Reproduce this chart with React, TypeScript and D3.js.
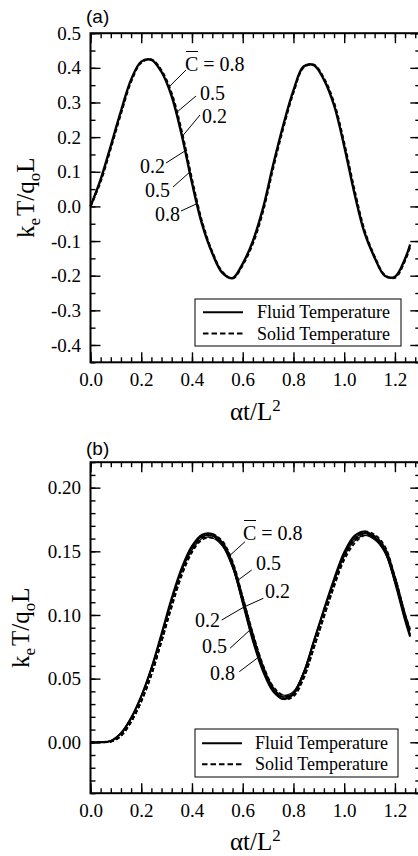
import React, { useEffect, useRef } from 'react';
import * as d3 from 'd3';

// time grid shared by every curve (alpha t / L^2)
const tGrid = [0, 0.04, 0.08, 0.12, 0.16, 0.2, 0.24, 0.28, 0.32, 0.36, 0.4, 0.44, 0.48, 0.52, 0.56, 0.6, 0.64,
  0.68, 0.72, 0.76, 0.8, 0.84, 0.88, 0.92, 0.96, 1.0, 1.04, 1.08, 1.12, 1.16, 1.2, 1.24, 1.26];

// panel (a): the three C curves sit on top of each other
const aFluid = [0, 0.078, 0.175, 0.275, 0.366, 0.418, 0.423, 0.388, 0.318, 0.205, 0.068, -0.052, -0.135, -0.192,
  -0.207, -0.165, -0.100, -0.005, 0.120, 0.235, 0.335, 0.404, 0.408, 0.366, 0.292, 0.174, 0.039, -0.076, -0.148,
  -0.200, -0.203, -0.151, -0.110];
const aSolid = [0, 0.072, 0.168, 0.268, 0.360, 0.415, 0.424, 0.392, 0.326, 0.215, 0.078, -0.045, -0.131, -0.189,
  -0.208, -0.169, -0.107, -0.014, 0.111, 0.227, 0.329, 0.401, 0.409, 0.370, 0.299, 0.183, 0.049, -0.069, -0.145,
  -0.198, -0.206, -0.156, -0.116];

// panel (b): one curve per C value
const bFluid08 = [0, 0, 0.001, 0.007, 0.019, 0.036, 0.058, 0.085, 0.113, 0.137, 0.154, 0.163, 0.1635, 0.156, 0.139,
  0.110, 0.080, 0.056, 0.040, 0.034, 0.038, 0.054, 0.079, 0.104, 0.128, 0.149, 0.162, 0.1655, 0.161, 0.151, 0.126,
  0.096, 0.083];
const bFluid05 = [0, 0, 0.001, 0.007, 0.019, 0.036, 0.058, 0.084, 0.112, 0.136, 0.153, 0.1615, 0.162, 0.155, 0.138,
  0.110, 0.081, 0.057, 0.041, 0.0355, 0.039, 0.055, 0.079, 0.104, 0.127, 0.148, 0.160, 0.164, 0.160, 0.150, 0.126,
  0.097, 0.084];
const bFluid02 = [0, 0, 0.001, 0.007, 0.019, 0.036, 0.058, 0.084, 0.111, 0.135, 0.151, 0.160, 0.1605, 0.154, 0.137,
  0.110, 0.082, 0.058, 0.042, 0.037, 0.040, 0.055, 0.079, 0.103, 0.126, 0.146, 0.158, 0.1625, 0.159, 0.149, 0.126,
  0.097, 0.085];
const bSolid08 = [0, 0, 0.0005, 0.005, 0.016, 0.032, 0.053, 0.080, 0.108, 0.133, 0.151, 0.162, 0.1635, 0.158, 0.142,
  0.114, 0.084, 0.059, 0.042, 0.034, 0.036, 0.050, 0.074, 0.099, 0.124, 0.146, 0.160, 0.1655, 0.163, 0.154, 0.130,
  0.100, 0.087];
const bSolid05 = [0, 0, 0.0005, 0.005, 0.016, 0.032, 0.053, 0.079, 0.107, 0.132, 0.150, 0.1605, 0.162, 0.157, 0.141,
  0.114, 0.085, 0.060, 0.043, 0.0355, 0.037, 0.051, 0.074, 0.099, 0.123, 0.145, 0.158, 0.164, 0.162, 0.153, 0.130,
  0.101, 0.088];
const bSolid02 = [0, 0, 0.0005, 0.005, 0.016, 0.032, 0.053, 0.079, 0.106, 0.131, 0.149, 0.159, 0.1605, 0.156, 0.140,
  0.114, 0.086, 0.061, 0.044, 0.037, 0.038, 0.051, 0.074, 0.098, 0.122, 0.143, 0.156, 0.1625, 0.161, 0.152, 0.130,
  0.101, 0.089];

const xTicks = [0, 0.2, 0.4, 0.6, 0.8, 1.0, 1.2];
const aYTicks = [-0.4, -0.3, -0.2, -0.1, 0, 0.1, 0.2, 0.3, 0.4, 0.5];
const bYTicks = [0, 0.05, 0.1, 0.15, 0.2];
const legendLabels = ['Fluid Temperature', 'Solid Temperature'];

const W = 418, H = 856;
const LEFT = 90.5, RIGHT = 420.3;
const SERIF = '"Liberation Serif", "Times New Roman", serif';
const SANS = '"Liberation Sans", Arial, sans-serif';

const panelA = {
  tag: '(a)', tagY: 23,
  top: 33.2, bottom: 362.3, yDomain: [-0.45, 0.5],
  yTicks: aYTicks, yMinor: d3.range(0, 20).map(i => -0.45 + i * 0.05), fmt: (v: number) => v.toFixed(1),
  yTitleX: 34, xTitleY: 420,
  fluid: [{ v: aFluid, w: 2.4 }],
  solid: [{ v: aSolid, w: 2.2 }],
  legend: { x: 195, y: 299, w: 206, h: 47, rows: [312.3, 333.5], lx: 203, tx: 257 },
  notes: [
    { text: 'C = 0.8', t: 0.306, lx: 186, ly: 70, tx: 185, ty: 71, anchor: 'start', bar: true },
    { text: '0.5', t: 0.337, lx: 196, ly: 96, tx: 200, ty: 100, anchor: 'start' },
    { text: '0.2', t: 0.361, lx: 200, ly: 115, tx: 202, ty: 123, anchor: 'start' },
    { text: '0.2', t: 0.373, lx: 166, ly: 163, tx: 165, ty: 173, anchor: 'end' },
    { text: '0.5', t: 0.391, lx: 173, ly: 187, tx: 170, ty: 197, anchor: 'end' },
    { text: '0.8', t: 0.420, lx: 181, ly: 211, tx: 180, ty: 221, anchor: 'end' },
  ],
};

const panelB = {
  tag: '(b)', tagY: 455,
  top: 462.2, bottom: 793.2, yDomain: [-0.04, 0.22],
  yTicks: bYTicks, yMinor: d3.range(0, 27).map(i => -0.04 + i * 0.01), fmt: (v: number) => v.toFixed(2),
  yTitleX: 29, xTitleY: 850,
  fluid: [{ v: bFluid02, w: 1.2 }, { v: bFluid05, w: 1.5 }, { v: bFluid08, w: 2.2 }],
  solid: [{ v: bSolid02, w: 1.6 }, { v: bSolid05, w: 1.6 }, { v: bSolid08, w: 1.8 }],
  legend: { x: 195, y: 729, w: 203, h: 48, rows: [743.3, 764.3], lx: 202, tx: 255 },
  notes: [
    { text: 'C = 0.8', t: 0.544, lx: 245, ly: 541.7, tx: 243, ty: 540, anchor: 'start', bar: true },
    { text: '0.5', t: 0.577, lx: 251.7, ly: 570, tx: 256, ty: 570, anchor: 'start' },
    { text: '0.2', t: 0.605, lx: 263.3, ly: 598.3, tx: 265, ty: 598, anchor: 'start' },
    { text: '0.2', t: 0.605, lx: 221.7, ly: 620, tx: 220, ty: 627, anchor: 'end' },
    { text: '0.5', t: 0.629, lx: 230, ly: 648.3, tx: 227, ty: 653, anchor: 'end' },
    { text: '0.8', t: 0.662, lx: 239.3, ly: 671.7, tx: 235, ty: 680, anchor: 'end' },
  ],
};

function addAxis(g: any, axis: any, transform: string, values: number[], size: number, fmt: any, pad: number) {
  const a = g.append('g').attr('transform', transform)
    .call(axis.tickValues(values).tickSizeInner(-size).tickSizeOuter(0).tickPadding(pad)
      .tickFormat(fmt || (() => '')));
  a.select('.domain').remove();
  a.selectAll('line').attr('stroke', '#000').attr('stroke-width', 1.4);
  a.selectAll('text').attr('font-family', SERIF).attr('font-size', 19).attr('fill', '#000');
  return a;
}

function drawPanel(svg: any, p: any) {
  const x = d3.scaleLinear().domain([0, 1.3]).range([LEFT, RIGHT]);
  const y = d3.scaleLinear().domain(p.yDomain).range([p.bottom, p.top]);
  const g = svg.append('g');
  const xMinor = d3.range(0, 33).map(i => i * 0.04);

  // minor ticks on all four sides
  addAxis(g, d3.axisBottom(x), `translate(0,${p.bottom})`, xMinor, 5, null, 0);
  addAxis(g, d3.axisTop(x), `translate(0,${p.top})`, xMinor, 5, null, 0);
  addAxis(g, d3.axisLeft(y), `translate(${LEFT},0)`, p.yMinor, 5, null, 0);
  addAxis(g, d3.axisRight(y), `translate(${RIGHT},0)`, p.yMinor, 5, null, 0);
  // major ticks, labels on bottom and left
  addAxis(g, d3.axisBottom(x), `translate(0,${p.bottom})`, xTicks, 10, (v: number) => v.toFixed(1), 10.5);
  addAxis(g, d3.axisTop(x), `translate(0,${p.top})`, xTicks, 10, null, 0);
  addAxis(g, d3.axisLeft(y), `translate(${LEFT},0)`, p.yTicks, 10, p.fmt, 9.5);
  addAxis(g, d3.axisRight(y), `translate(${RIGHT},0)`, p.yTicks, 10, null, 0);

  g.append('rect')
    .attr('x', LEFT).attr('y', p.top)
    .attr('width', RIGHT - LEFT).attr('height', p.bottom - p.top)
    .attr('fill', 'none').attr('stroke', '#000').attr('stroke-width', 2);

  const line = d3.line<number>()
    .x((_, i) => x(tGrid[i]))
    .y(v => y(v))
    .curve(d3.curveCatmullRom.alpha(0.5));

  p.fluid.forEach((s: any) => {
    g.append('path').attr('d', line(s.v)).attr('fill', 'none')
      .attr('stroke', '#000').attr('stroke-width', s.w);
  });
  p.solid.forEach((s: any) => {
    g.append('path').attr('d', line(s.v)).attr('fill', 'none')
      .attr('stroke', '#000').attr('stroke-width', s.w).attr('stroke-dasharray', '4,2.5');
  });

  // leader lines + C labels, touching the outer fluid curve
  const outer = p.fluid[p.fluid.length - 1].v;
  const interp = d3.scaleLinear().domain(tGrid).range(outer);
  p.notes.forEach((n: any) => {
    g.append('line')
      .attr('x1', x(n.t)).attr('y1', y(interp(n.t)))
      .attr('x2', n.lx).attr('y2', n.ly)
      .attr('stroke', '#000').attr('stroke-width', 1);
    g.append('text')
      .attr('x', n.tx).attr('y', n.ty)
      .attr('text-anchor', n.anchor)
      .attr('font-family', SERIF).attr('font-size', 20)
      .text(n.text);
    if (n.bar) {
      g.append('line')
        .attr('x1', n.tx + 1).attr('x2', n.tx + 13)
        .attr('y1', n.ty - 19.5).attr('y2', n.ty - 19.5)
        .attr('stroke', '#000').attr('stroke-width', 1);
    }
  });

  // legend
  const L = p.legend;
  g.append('rect').attr('x', L.x).attr('y', L.y).attr('width', L.w).attr('height', L.h)
    .attr('fill', '#fff').attr('stroke', '#000').attr('stroke-width', 1);
  legendLabels.forEach((lab, i) => {
    g.append('line')
      .attr('x1', L.lx).attr('x2', L.lx + 40)
      .attr('y1', L.rows[i]).attr('y2', L.rows[i])
      .attr('stroke', '#000').attr('stroke-width', 2)
      .attr('stroke-dasharray', i === 1 ? '5.5,3' : null);
    g.append('text')
      .attr('x', L.tx).attr('y', L.rows[i] + 6)
      .attr('font-family', SERIF).attr('font-size', 18)
      .text(lab);
  });

  // axis titles
  const yt = g.append('text')
    .attr('transform', `translate(${p.yTitleX},${(p.top + p.bottom) / 2}) rotate(-90)`)
    .attr('text-anchor', 'middle')
    .attr('font-family', SERIF).attr('font-size', 25);
  yt.append('tspan').text('k');
  yt.append('tspan').attr('font-size', 17).attr('dy', 6).text('e');
  yt.append('tspan').attr('dy', -6).attr('dx', 2).text('T/q');
  yt.append('tspan').attr('font-size', 17).attr('dy', 6).text('o');
  yt.append('tspan').attr('dy', -6).text('L');

  const xt = g.append('text')
    .attr('x', (LEFT + RIGHT) / 2).attr('y', p.xTitleY)
    .attr('text-anchor', 'middle')
    .attr('font-family', SERIF).attr('font-size', 25);
  xt.append('tspan').text('\u03b1t/L');
  xt.append('tspan').attr('font-size', 17).attr('dy', -9).text('2');

  g.append('text').attr('x', 86).attr('y', p.tagY)
    .attr('font-family', SANS).attr('font-size', 19).text(p.tag);
}

export default function App() {
  const ref = useRef<SVGSVGElement>(null);

  useEffect(() => {
    const svg = d3.select(ref.current);
    svg.selectAll('*').remove();
    drawPanel(svg, panelA);
    drawPanel(svg, panelB);
  }, []);

  return (
    <svg ref={ref} width={W} height={H}
      style={{ position: 'absolute', left: 0, top: 0, background: '#fff' }} />
  );
}
